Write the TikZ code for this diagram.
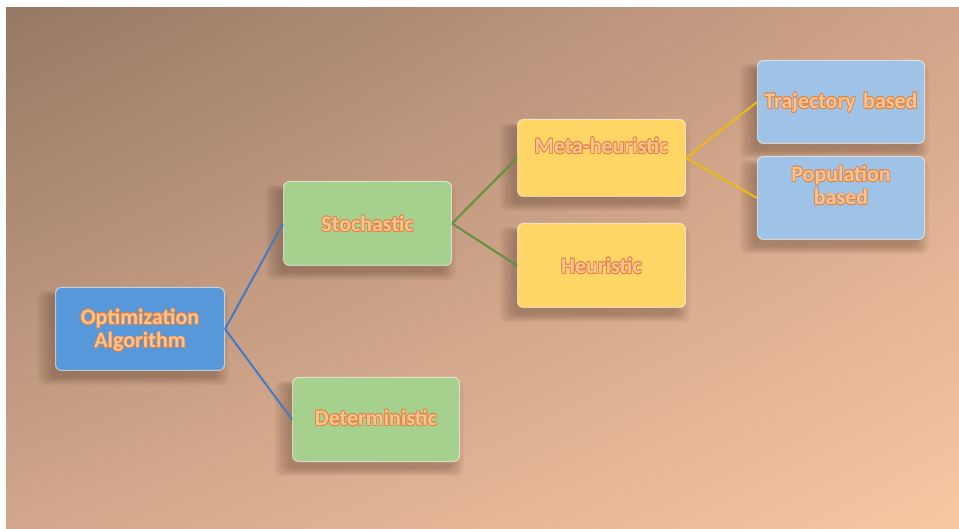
\documentclass[tikz,border=0pt]{standalone}
\usepackage{fontspec}
\setmainfont{Carlito}
\usetikzlibrary{shadows,shadings}

% background corners
\definecolor{bgTL}{RGB}{150,121,101}
\definecolor{bgTR}{RGB}{210,165,138}
\definecolor{bgBL}{RGB}{212,168,140}
\definecolor{bgBR}{RGB}{250,200,164}
% box fills
\definecolor{boxblue}{RGB}{86,152,218}
\definecolor{boxgreen}{RGB}{166,208,142}
\definecolor{boxyellow}{RGB}{255,214,102}
\definecolor{boxlight}{RGB}{158,195,230}
% connector colours
\definecolor{lineblue}{RGB}{72,122,196}
\definecolor{linegreen}{RGB}{98,146,60}
\definecolor{lineyellow}{RGB}{236,186,20}
% lettering
\definecolor{txtedge}{RGB}{228,132,62}
\definecolor{txtfill}{RGB}{250,196,148}
\definecolor{shadowc}{RGB}{70,42,28}

% outlined lettering: eight offset copies in the edge colour, fill on top
\newcommand\hcopy[3]{\rlap{\kern#1\raisebox{#2}{\textcolor{txtedge}{#3}}}}
\newcommand\htx[1]{\leavevmode
  \hcopy{0.8pt}{0pt}{#1}\hcopy{-0.8pt}{0pt}{#1}%
  \hcopy{0pt}{0.8pt}{#1}\hcopy{0pt}{-0.8pt}{#1}%
  \hcopy{0.55pt}{0.55pt}{#1}\hcopy{-0.55pt}{0.55pt}{#1}%
  \hcopy{0.55pt}{-0.55pt}{#1}\hcopy{-0.55pt}{-0.55pt}{#1}%
  \textcolor{txtfill}{#1}}

% soft drop shadow built from stacked translucent copies
\tikzset{
  softlayer/.style={general shadow={draw=none, fill=shadowc, opacity=.06,
      shadow xshift=-6pt, shadow yshift=-8pt, shadow scale=#1}},
  card/.style={rounded corners=6pt, inner sep=0pt, align=center,
    anchor=north west,
    font=\fontsize{22}{23.5}\selectfont\bfseries,
    draw=white, line width=1pt, draw opacity=.55,
    softlayer=1.13, softlayer=1.10, softlayer=1.07, softlayer=1.04,
    softlayer=1.01, softlayer=0.98},
  link/.style={line width=2pt}
}

\begin{document}
\begin{tikzpicture}[x=1pt,y=-1pt]
  \useasboundingbox (0,0) rectangle (959,529);
  \fill[white] (0,0) rectangle (959,529);
  % solid underlay, then the diagonal gradient
  \fill[bgBR] (6,8) rectangle (959,529);
  \shade[upper left=bgTL, upper right=bgTR, lower left=bgBL,
         lower right=bgBR] (6,8) rectangle (975,545);

  \node[card, fill=boxblue, text width=169pt, text height=37pt,
        text depth=46pt] (opt) at (55,287)
        {\htx{Optimization}\\\htx{Algorithm}};
  \node[card, fill=boxgreen, text width=168pt, text height=50pt,
        text depth=34pt] (sto) at (283,181) {\htx{Stochastic}};
  \node[card, fill=boxgreen, text width=167pt, text height=48pt,
        text depth=36pt] (det) at (292,377) {\htx{Deterministic}};
  \node[card, fill=boxyellow, text width=168pt, text height=34pt,
        text depth=43pt] (meta) at (517,119) {\htx{Meta-heuristic}};
  \node[card, fill=boxyellow, text width=168pt, text height=50pt,
        text depth=34pt] (heu) at (517,223) {\htx{Heuristic}};
  \node[card, fill=boxlight, text width=167pt, text height=48pt,
        text depth=35pt] (traj) at (757,60) {\htx{Trajectory based}};
  \node[card, fill=boxlight, text width=167pt, text height=25pt,
        text depth=58pt] (pop) at (757,156)
        {\htx{Population}\\\htx{based}};

  \draw[link, lineblue] (opt.east) -- (sto.west);
  \draw[link, lineblue] (opt.east) -- (det.west);
  \draw[link, linegreen] (sto.east) -- (meta.west);
  \draw[link, linegreen] (sto.east) -- (heu.west);
  \draw[link, lineyellow] (meta.east) -- (traj.west);
  \draw[link, lineyellow] (meta.east) -- (pop.west);
\end{tikzpicture}
\end{document}
